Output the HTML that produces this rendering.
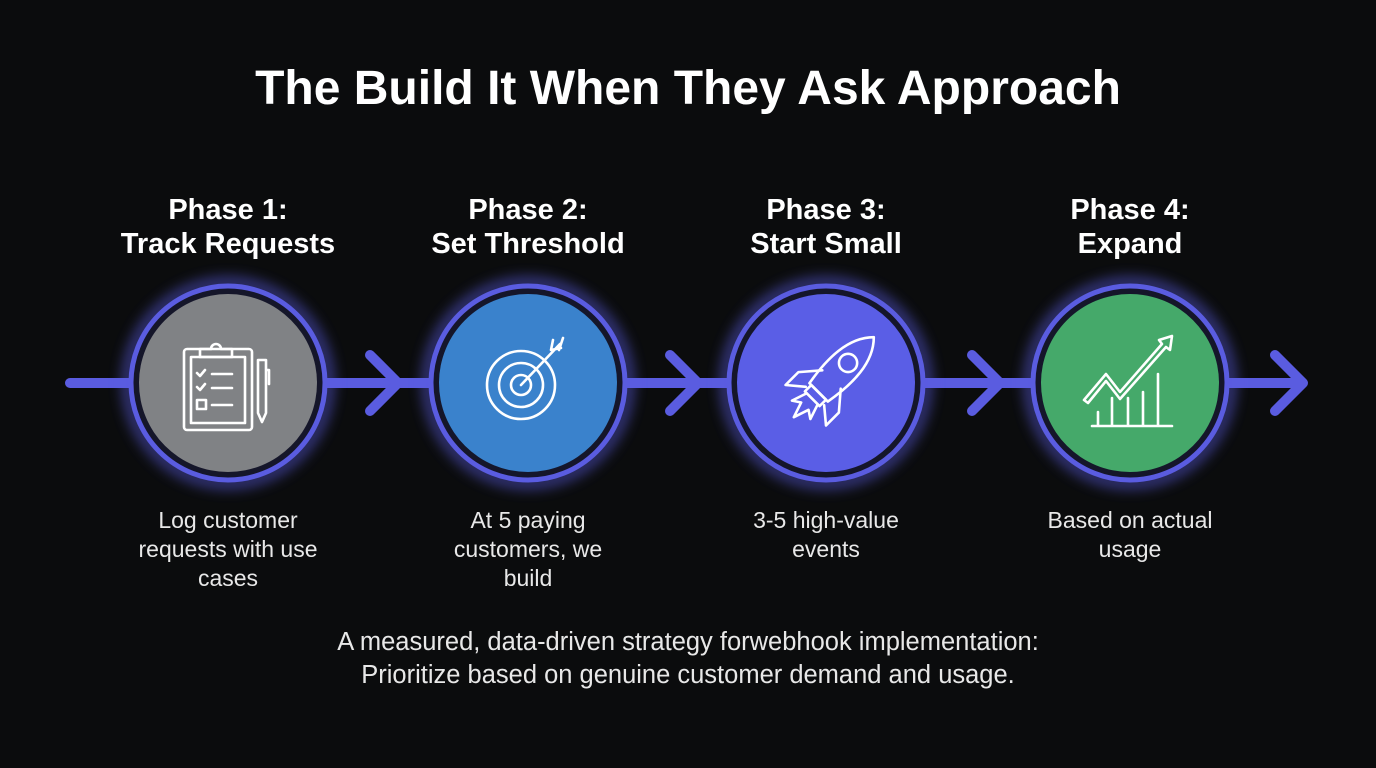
<!DOCTYPE html>
<html><head><meta charset="utf-8"><style>
html,body{margin:0;padding:0;background:#0b0c0d;}
body{width:1376px;height:768px;position:relative;overflow:hidden;font-family:"Liberation Sans",sans-serif;color:#fff;}
.t{position:absolute;left:0;width:1376px;text-align:center;}
.h{position:absolute;width:300px;text-align:center;font-weight:bold;font-size:29px;line-height:34px;}
.d{position:absolute;text-align:center;font-size:23px;line-height:29px;color:#e8e8e8;}
</style></head><body>
<div class="t" style="top:61px;font-size:48px;font-weight:bold;">The Build It When They Ask Approach</div>

<svg width="1376" height="768" style="position:absolute;left:0;top:0">
<defs><filter id="g" x="-30%" y="-30%" width="160%" height="160%"><feGaussianBlur stdDeviation="7"/></filter></defs>
<g stroke="#5a5ce0" stroke-width="10" stroke-linecap="round" fill="none">
<line x1="70" y1="383" x2="1300" y2="383"/>
<polyline points="370,355 398,383 370,411" stroke-linejoin="round"/>
<polyline points="670,355 698,383 670,411" stroke-linejoin="round"/>
<polyline points="972,355 1000,383 972,411" stroke-linejoin="round"/>
<polyline points="1275,355 1303,383 1275,411" stroke-linejoin="round"/>
</g>
<g>
<circle cx="228" cy="383" r="100" fill="none" stroke="#5a5ce0" stroke-width="10" filter="url(#g)" opacity=".7"/>
<circle cx="528" cy="383" r="100" fill="none" stroke="#5a5ce0" stroke-width="10" filter="url(#g)" opacity=".7"/>
<circle cx="826" cy="383" r="100" fill="none" stroke="#5a5ce0" stroke-width="10" filter="url(#g)" opacity=".7"/>
<circle cx="1130" cy="383" r="100" fill="none" stroke="#5a5ce0" stroke-width="10" filter="url(#g)" opacity=".7"/>
</g>
<g stroke="#5a5ce0" stroke-width="5">
<circle cx="228" cy="383" r="97" fill="#15162a"/><circle cx="228" cy="383" r="89" fill="#808285" stroke="none"/>
<circle cx="528" cy="383" r="97" fill="#15162a"/><circle cx="528" cy="383" r="89" fill="#3a82cc" stroke="none"/>
<circle cx="826" cy="383" r="97" fill="#15162a"/><circle cx="826" cy="383" r="89" fill="#5a5ee6" stroke="none"/>
<circle cx="1130" cy="383" r="97" fill="#15162a"/><circle cx="1130" cy="383" r="89" fill="#45a96a" stroke="none"/>
</g>
<g stroke="#fff" stroke-width="2.6" fill="none" stroke-linecap="round" stroke-linejoin="round">
<rect x="184" y="349" width="68" height="81" rx="3"/>
<rect x="191" y="357" width="54" height="66"/>
<path d="M200 357 v-8 h11 a5 5 0 0 1 10 0 h11 v8 z"/>
<path d="M197 373 l3 3 5-6 M212 374 h20 M197 387 l3 3 5-6 M212 388 h20 M212 405 h20"/>
<rect x="197" y="400" width="9" height="9"/>
<path d="M258 360 h8 v53 l-4 9 l-4 -9 z M266 370 h3 v14"/>
<circle cx="521" cy="385" r="34"/><circle cx="521" cy="385" r="22"/><circle cx="521" cy="385" r="10"/>
<path d="M521 385 L560 344 M553 340 l-2 10 10 -2 M563 338 l-4 12"/>
<g transform="translate(826,385) rotate(45) scale(1.3)" stroke-width="2">
<path d="M0 -52 C14 -38 14 -15 10 8 h-20 C-14 -15 -14 -38 0 -52 z"/>
<circle cx="0" cy="-24" r="7"/>
<rect x="-8" y="8" width="16" height="7"/>
<path d="M-10 -6 l-12 14 v14 l12 -10 M10 -6 l12 14 v14 l-12 -10"/>
<path d="M-6 15 l-4 12 6 -4 4 12 4 -12 6 4 -4 -12"/>
</g>
<path d="M1092 426 h80 M1098 426 v-14 M1112 426 v-28 M1128 426 v-28 M1143 426 v-34 M1158 426 v-52"/>
<path d="M1084 400 l22 -26 14 18 42 -48 -3 -4 13 -4 -2 14 -4 -3 -46 52 -14 -18 -18 22 z"/>
</g>
</svg>

<div class="h" style="left:78px;top:193px;">Phase 1:<br>Track Requests</div>
<div class="h" style="left:378px;top:193px;">Phase 2:<br>Set Threshold</div>
<div class="h" style="left:676px;top:193px;">Phase 3:<br>Start Small</div>
<div class="h" style="left:980px;top:193px;">Phase 4:<br>Expand</div>

<div class="d" style="left:123px;width:210px;top:506px;">Log customer requests with use cases</div>
<div class="d" style="left:438px;width:180px;top:506px;">At 5 paying customers, we build</div>
<div class="d" style="left:726px;width:200px;top:506px;">3-5 high-value events</div>
<div class="d" style="left:1030px;width:200px;top:506px;">Based on actual usage</div>

<div class="t" style="top:626px;font-size:25.5px;line-height:33px;color:#e8e8e8;">A measured, data-driven strategy forwebhook implementation:<br>Prioritize based on genuine customer demand and usage.</div>
</body></html>
